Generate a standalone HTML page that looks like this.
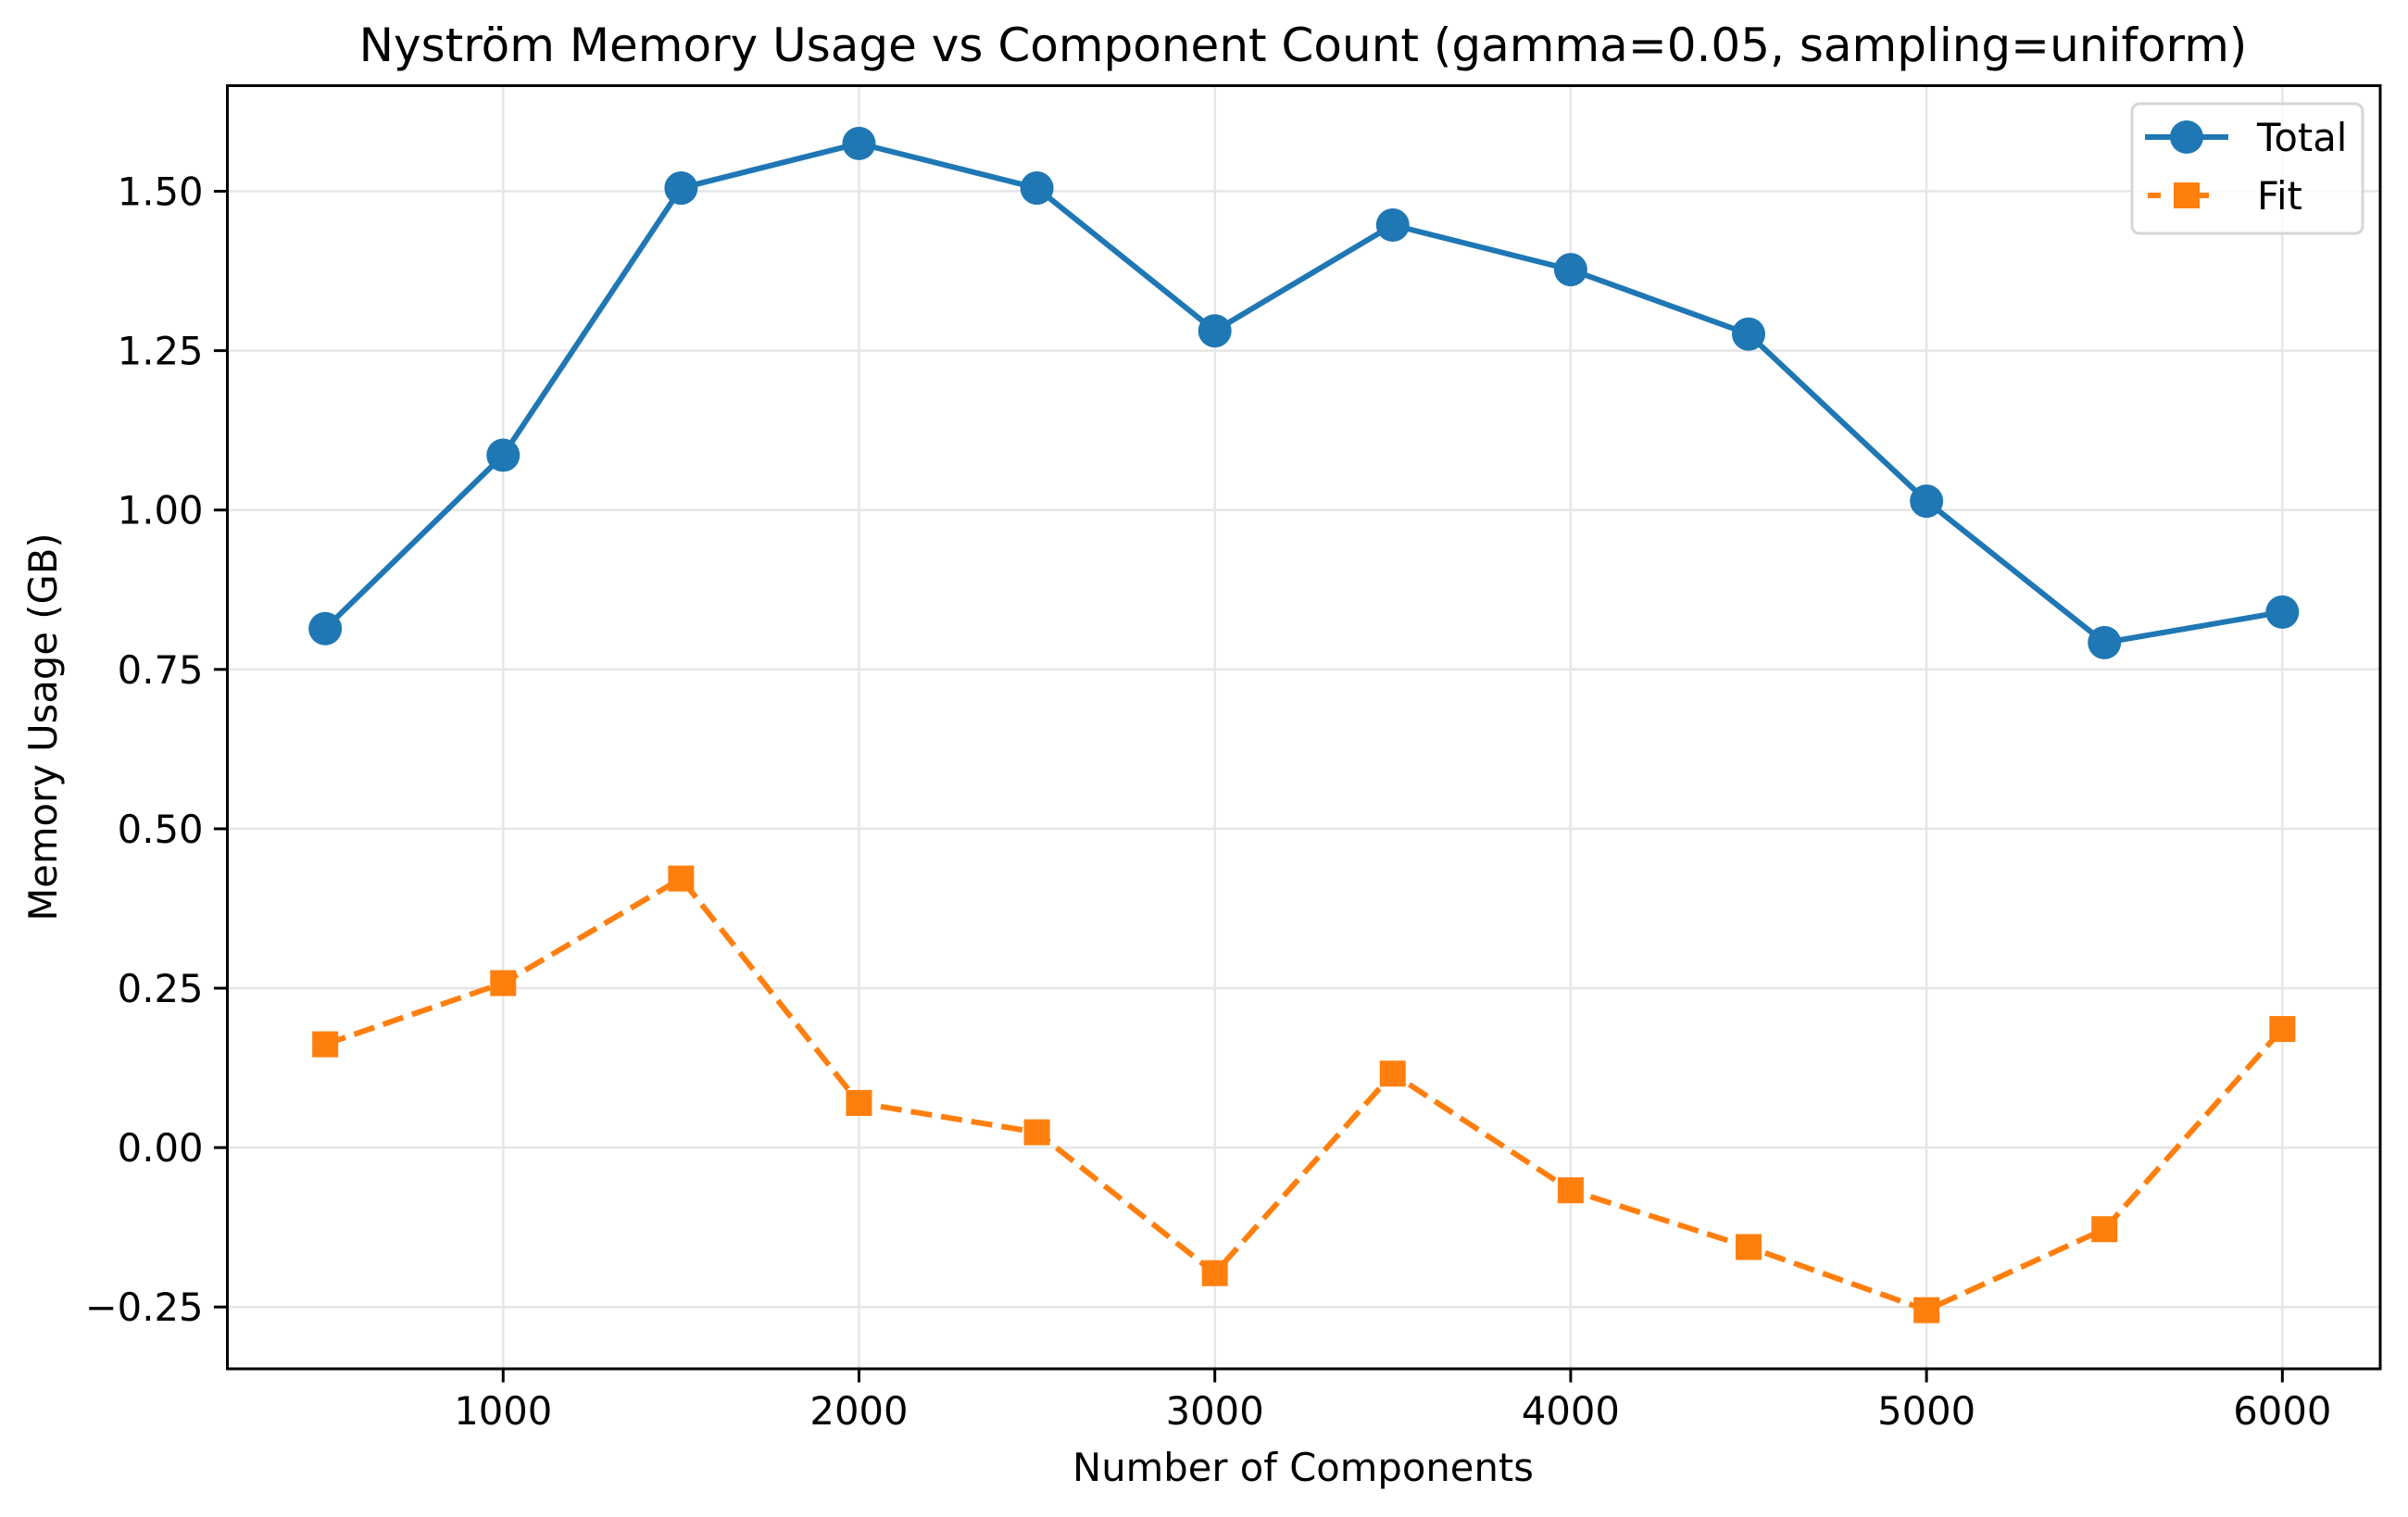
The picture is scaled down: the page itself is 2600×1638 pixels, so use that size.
<!DOCTYPE html>
<html><head><meta charset="utf-8"><style>
html,body{margin:0;padding:0;background:#fff;}
svg{display:block;font-family:"DejaVu Sans","Liberation Sans",sans-serif;}
</style></head><body>
<svg id="chart" width="2600" height="1638" viewBox="0 0 2600 1638" xmlns="http://www.w3.org/2000/svg">
<rect x="0" y="0" width="2600" height="1638" fill="#fff"/>
<g id="grid"></g>
<g id="series"></g>
<rect x="245.5" y="92.5" width="2324.5" height="1385.5" fill="none" stroke="#000" stroke-width="3"/>
<g id="ticks"></g>
<text x="1407" y="66" text-anchor="middle" font-size="50" fill="#000">Nyström Memory Usage vs Component Count (gamma=0.05, sampling=uniform)</text>
<text x="1407" y="1599" text-anchor="middle" font-size="41.7" fill="#000">Number of Components</text>
<text transform="translate(61,785) rotate(-90)" text-anchor="middle" font-size="41.7" fill="#000">Memory Usage (GB)</text>
<g>
<rect x="2302" y="112" width="249" height="140" rx="8" fill="#fff" fill-opacity="0.8" stroke="#d6d6d6" stroke-width="3"/>
<g>
<line x1="2316" y1="148" x2="2406" y2="148" stroke="#1f77b4" stroke-width="6"/>
<circle cx="2361" cy="148" r="18" fill="#1f77b4"/>
<text x="2437" y="163" font-size="41.7" fill="#000">Total</text>
</g>
<g>
<line x1="2319" y1="211" x2="2403" y2="211" stroke="#ff7f0e" stroke-width="6" stroke-dasharray="14,38"/>
<rect x="2347" y="197" width="28" height="28" fill="#ff7f0e"/>
<text x="2437" y="226" font-size="41.7" fill="#000">Fit</text>
</g>
</g>
</svg>
<script>
const components = [500,1000,1500,2000,2500,3000,3500,4000,4500,5000,5500,6000];
const totalValues = [0.814,1.086,1.505,1.575,1.505,1.281,1.447,1.377,1.276,1.014,0.792,0.840];
const fitValues = [0.162,0.258,0.422,0.070,0.024,-0.197,0.116,-0.067,-0.156,-0.255,-0.128,0.186];
const xTicks = [1000,2000,3000,4000,5000,6000];
const yTicks = [-0.25,0,0.25,0.5,0.75,1.0,1.25,1.5];
const yTickLabels = ["\u22120.25","0.00","0.25","0.50","0.75","1.00","1.25","1.50"];

const L=245.5,R=2570,T=92.5,B=1478;
const xMin=225,xMax=6275,yMin=-0.347,yMax=1.6656;
function sx(v){return L+(v-xMin)/(xMax-xMin)*(R-L);}
function sy(v){return B-(v-yMin)/(yMax-yMin)*(B-T);}
const NS="http://www.w3.org/2000/svg";
function mk(tag,attrs,parent){const e=document.createElementNS(NS,tag);for(const k in attrs)e.setAttribute(k,attrs[k]);parent.appendChild(e);return e;}
const grid=document.getElementById('grid'),ticks=document.getElementById('ticks'),series=document.getElementById('series');

xTicks.forEach(v=>{
  const x=sx(v);
  const g=mk('line',{x1:x,y1:T,x2:x,y2:B,stroke:'#e6e6e6','stroke-width':2.5},grid);
  
  
  const t=mk('line',{x1:x,y1:B,x2:x,y2:B+14.6,stroke:'#000','stroke-width':3},ticks);
  
  
  const l=mk('text',{x:x,y:B+60,'text-anchor':'middle','font-size':41.7,fill:'#000'},ticks);
  l.textContent=String(v);
  
  
});
yTicks.forEach((v,i)=>{
  const y=sy(v);
  const g=mk('line',{x1:L,y1:y,x2:R,y2:y,stroke:'#e6e6e6','stroke-width':2.5},grid);
  
  
  const t=mk('line',{x1:L-14.6,y1:y,x2:L,y2:y,stroke:'#000','stroke-width':3},ticks);
  
  
  const l=mk('text',{x:L-26,y:y+15,'text-anchor':'end','font-size':41.7,fill:'#000'},ticks);
  l.textContent=yTickLabels[i];
  
  
});

const totalPts=components.map((c,i)=>sx(c)+','+sy(totalValues[i])).join(' ');
const tl=mk('polyline',{points:totalPts,fill:'none',stroke:'#1f77b4','stroke-width':6,'stroke-linejoin':'round'},series);


const fitPts=components.map((c,i)=>sx(c)+','+sy(fitValues[i])).join(' ');
const fl=mk('polyline',{points:fitPts,fill:'none',stroke:'#ff7f0e','stroke-width':6,'stroke-dasharray':'23,10'},series);


components.forEach((c,i)=>{
  const p=mk('circle',{cx:sx(c),cy:sy(totalValues[i]),r:18,fill:'#1f77b4'},series);
  
  
  const s=mk('rect',{x:sx(c)-14,y:sy(fitValues[i])-14,width:28,height:28,fill:'#ff7f0e'},series);
  
  
});
</script>
</body></html>
